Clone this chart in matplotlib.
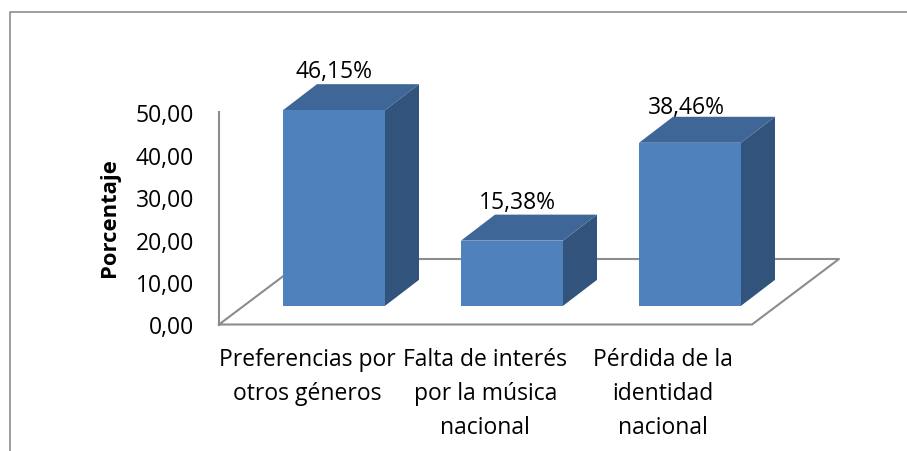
import numpy as np
import matplotlib
matplotlib.use("Agg")
import matplotlib.pyplot as plt
from matplotlib.patches import Polygon

plt.rcParams['font.family'] = ['Open Sans', 'DejaVu Sans']

labels = ["Preferencias por\notros géneros", "Falta de interés\npor la música\nnacional", "Pérdida de la\nidentidad\nnacional"]
values = [46.15, 15.38, 38.46]
val_labels = ["46,15%", "15,38%", "38,46%"]
yticks = [0, 10, 20, 30, 40, 50]

W, H = 907, 452
fig = plt.figure(figsize=(W / 100, H / 100), dpi=100)
ax = fig.add_axes([0, 0, 1, 1])
# one x unit is a category step (178 px), one y unit is 1 % (4.24 px)
ux, uy = 178.0, 4.24
ax.set_xlim(-334 / ux, (W - 334) / ux)
ax.set_ylim((325.5 - H) / uy, 325.5 / uy)
ax.axis("off")

def px(x, y):
    return ((x - 334) / ux, (325.5 - y) / uy)

# outer frame, open on the right
ax.plot(*zip(px(10, 452), px(10, 13), px(907, 13)), color="#8c8c8c", lw=1.2)

# floor and wall
grey = "#8c8c8c"
floor = [px(219, 325.5), px(752, 325.5), px(839, 260), px(306, 260), px(219, 325.5)]
ax.plot(*zip(*floor), color=grey, lw=1.5)
ax.plot(*zip(px(219, 325.5), px(219, 113)), color=grey, lw=1.5)

# bars
dx, dy = 34 / ux, 26 / uy
bw = 102 / ux
base = (325.5 - 306) / uy - 0.2
lab_dx = [0, 5, -4]
lab_dy = [13, 13, 10]
for i, v in enumerate(values):
    x0, x1 = i - bw / 2, i + bw / 2
    y0, y1 = base, base + v
    ax.add_patch(Polygon([(x1, y0), (x1 + dx, y0 + dy), (x1 + dx, y1 + dy), (x1, y1)], fc="#31537c", ec="none", zorder=3))
    ax.add_patch(Polygon([(x0, y1), (x1, y1), (x1 + dx, y1 + dy), (x0 + dx, y1 + dy)], fc="#3e6696", ec="none", zorder=3))
    ax.add_patch(Polygon([(x0, y0), (x1, y0), (x1, y1), (x0, y1)], fc="#4f81bd", ec="none", zorder=3))
    ax.text(i + lab_dx[i] / ux, y1 + dy + lab_dy[i] / uy, val_labels[i], ha="center", va="center", fontsize=16.5, color="black", zorder=4)
    ax.text(i - 0.15, px(0, 348)[1], labels[i], ha="center", va="top", fontsize=16.5, color="black", linespacing=1.56)

# y ticks
for t in yticks:
    ax.text(px(194, 0)[0], t - 0.7, f"{t:.2f}".replace(".", ","), ha="right", va="center", fontsize=16.5, color="black")

ax.text(*px(110, 218), "Porcentaje", rotation=90, ha="center", va="center", fontsize=15.8, fontweight="bold", color="black")

fig.savefig("out.png", dpi=100)
